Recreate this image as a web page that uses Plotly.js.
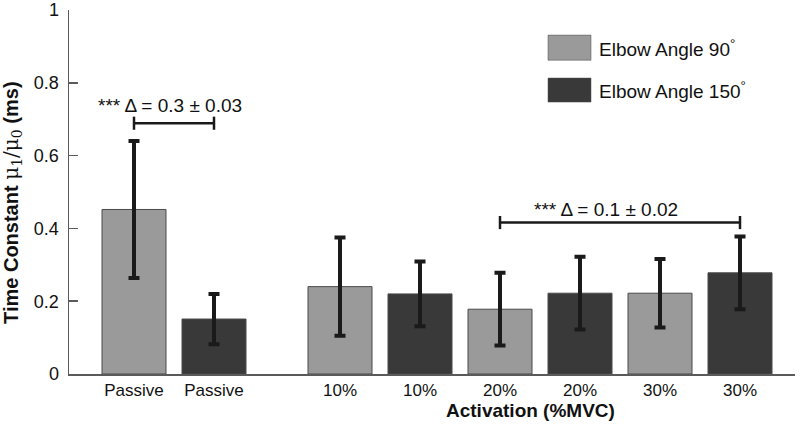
<!DOCTYPE html>
<html>
<head>
<meta charset="utf-8">
<script src="https://cdn.plot.ly/plotly-3.0.1.min.js"></script>
<style>html,body{margin:0;padding:0;background:#fff;}#chart{width:800px;height:425px;}</style>
</head>
<body>
<div id="chart"></div>
<script>
// ---- data ----
var groups = ['Passive', '10%', '20%', '30%'];
var seriesNames = ['Elbow Angle 90<sup>°</sup>', 'Elbow Angle 150<sup>°</sup>'];
var angle90Mean = [0.452, 0.240, 0.178, 0.222];
var angle90Err  = [0.188, 0.135, 0.100, 0.094];
var angle150Mean = [0.151, 0.220, 0.222, 0.278];
var angle150Err  = [0.069, 0.089, 0.100, 0.100];
var tickLabels = ['Passive', 'Passive', '10%', '10%', '20%', '20%', '30%', '30%'];
var sigLabels = ['*** Δ = 0.3 ± 0.03', '*** Δ = 0.1 ± 0.02'];

// ---- layout helpers ----
var gapAfterPassive = 0.575;
function pos(g, s) { return 1 + g * 2 + s + (g > 0 ? gapAfterPassive : 0); }
var x90 = groups.map(function (_, g) { return pos(g, 0); });
var x150 = groups.map(function (_, g) { return pos(g, 1); });
var tickVals = [];
groups.forEach(function (_, g) { tickVals.push(pos(g, 0)); tickVals.push(pos(g, 1)); });

var c90 = '#9a9a9a', c150 = '#393939', errC = '#1a1a1a', axC = '#5a5a5a';
var FONT = 'Liberation Sans, Arial, sans-serif';

function barTrace(x, y, e, color, name) {
  return {
    type: 'bar', x: x, y: y, name: name, width: 0.8,
    marker: { color: color, line: { color: '#4a4a4a', width: 1 } },
    error_y: { type: 'data', array: e, visible: true, color: errC, thickness: 4, width: 5.5 },
    showlegend: false, hoverinfo: 'none'
  };
}
var data = [
  barTrace(x90, angle90Mean, angle90Err, c90, seriesNames[0]),
  barTrace(x150, angle150Mean, angle150Err, c150, seriesNames[1])
];

var shapes = [], annotations = [];
function bracket(xa, xb, y) {
  var h = 0.018;
  shapes.push({ type: 'line', xref: 'x', yref: 'y', x0: xa, x1: xb, y0: y, y1: y, line: { color: errC, width: 2.5 } });
  shapes.push({ type: 'line', xref: 'x', yref: 'y', x0: xa, x1: xa, y0: y - h, y1: y + h, line: { color: errC, width: 2.5 } });
  shapes.push({ type: 'line', xref: 'x', yref: 'y', x0: xb, x1: xb, y0: y - h, y1: y + h, line: { color: errC, width: 2.5 } });
}
bracket(x90[0], x150[0], 0.689);
bracket(x90[2], x150[3], 0.416);
annotations.push({ xref: 'x', yref: 'y', x: 1.444, y: 0.739, text: sigLabels[0], showarrow: false,
  xanchor: 'center', yanchor: 'middle', font: { family: FONT, size: 19, color: '#111' } });
annotations.push({ xref: 'x', yref: 'y', x: 6.894, y: 0.453, text: sigLabels[1], showarrow: false,
  xanchor: 'center', yanchor: 'middle', font: { family: FONT, size: 19, color: '#111' } });

// legend (drawn manually)
var legY = [[0.931, 0.862, 0.896], [0.813, 0.747, 0.780]];
[c90, c150].forEach(function (c, i) {
  shapes.push({ type: 'rect', xref: 'paper', yref: 'paper', x0: 0.6598, x1: 0.719, y0: legY[i][1], y1: legY[i][0],
    fillcolor: c, line: { color: '#4a4a4a', width: 0.5 } });
  annotations.push({ xref: 'paper', yref: 'paper', x: 0.727, y: legY[i][2], xanchor: 'left', yanchor: 'middle',
    text: seriesNames[i], showarrow: false, font: { family: FONT, size: 19, color: '#111' } });
});

// axis titles
annotations.push({ xref: 'paper', yref: 'paper', x: 0.636, y: -0.099, xanchor: 'center', yanchor: 'middle',
  text: '<b>Activation (%MVC)</b>', showarrow: false, font: { family: FONT, size: 19, color: '#111' } });
annotations.push({ xref: 'paper', yref: 'paper', x: -0.0785, y: 0.47, xanchor: 'center', yanchor: 'middle', textangle: -90,
  text: '<b>Time Constant </b><span style="font-family:DejaVu Serif">μ<sub>1</sub>/μ<sub>0</sub></span><b> (ms)</b>',
  showarrow: false, font: { family: FONT, size: 20, color: '#111' } });

var layout = {
  width: 800, height: 425,
  margin: { l: 69, r: 5, t: 10, b: 51 },
  paper_bgcolor: '#fff', plot_bgcolor: '#fff',
  barmode: 'overlay', bargap: 0,
  font: { family: FONT, size: 17, color: '#111' },
  xaxis: {
    range: [0.1875, 9.2625], tickvals: tickVals, ticktext: tickLabels,
    showline: true, linecolor: axC, linewidth: 1.5, ticks: '', showgrid: false, zeroline: false,
    tickfont: { family: FONT, size: 17, color: '#111' }
  },
  yaxis: {
    range: [0, 1], tickvals: [0, 0.2, 0.4, 0.6, 0.8, 1], ticktext: ['0', '0.2', '0.4', '0.6', '0.8', '1'],
    showline: true, linecolor: axC, linewidth: 1.5, ticks: 'inside', ticklen: 9, tickcolor: axC, tickwidth: 1.5,
    showgrid: false, zeroline: false, ticklabelstandoff: 5,
    tickfont: { family: FONT, size: 18, color: '#111' }
  },
  shapes: shapes, annotations: annotations
};
Plotly.newPlot('chart', data, layout, { staticPlot: true, displayModeBar: false });
</script>
</body>
</html>
